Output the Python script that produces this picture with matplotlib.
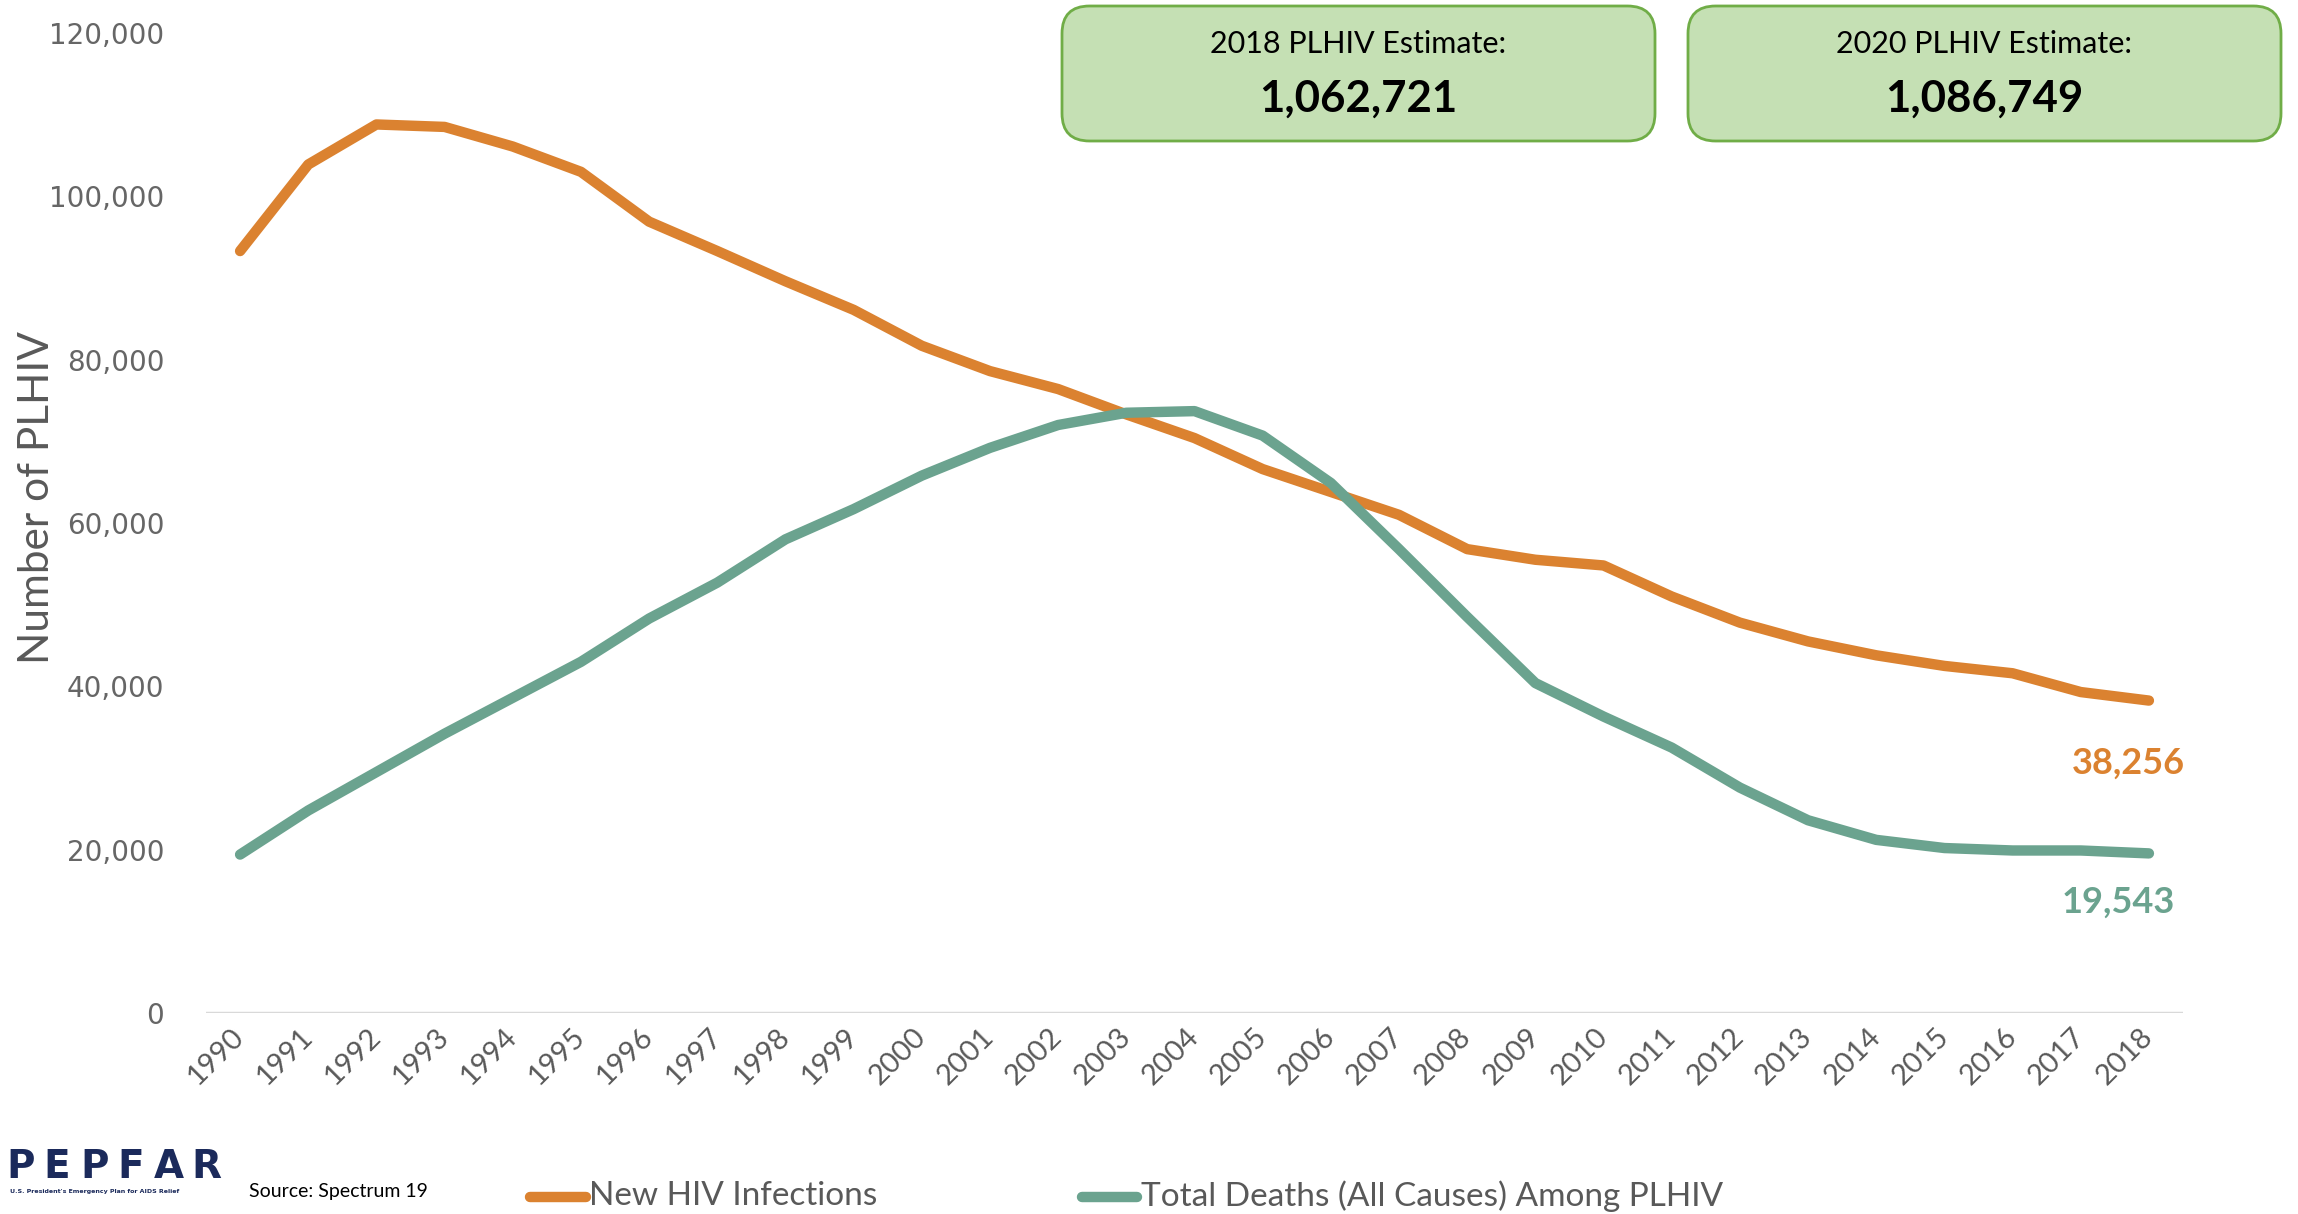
import numpy as np
import matplotlib.pyplot as plt
from matplotlib.patches import FancyBboxPatch
from matplotlib.lines import Line2D

###--- DATA ---###
years = list(range(1990, 2019))

new_infections = [93300, 103900, 108800, 108500, 106100, 103000, 96900, 93300,
                  89600, 86100, 81700, 78600, 76400, 73300, 70400, 66600,
                  63800, 61000, 56800, 55500, 54800, 51000, 47800, 45500,
                  43800, 42500, 41600, 39300, 38256]

total_deaths = [19400, 24800, 29500, 34200, 38600, 43000, 48300, 52700,
                58000, 61700, 65800, 69200, 72000, 73500, 73700, 70700,
                64900, 56800, 48500, 40400, 36300, 32500, 27600, 23600,
                21200, 20200, 19900, 19900, 19543]

series_names = ['New HIV Infections', 'Total Deaths (All Causes) Among PLHIV']
box_titles = ['2018 PLHIV Estimate:', '2020 PLHIV Estimate:']
box_values = ['1,062,721', '1,086,749']

###--- STYLE ---###
orange = '#DB8230'
green = '#6BA38F'
gray = '#595959'
W, H = 2298, 1214

def fx(px):
    return px / W

def fy(py):
    return 1 - py / H

fig = plt.figure(figsize=(W / 100, H / 100), dpi=100)
ax = fig.add_axes([fx(206), fy(1013), fx(2183) - fx(206), fy(33) - fy(1013)])

ax.plot(years, new_infections, color=orange, lw=7.5, solid_capstyle='round',
        solid_joinstyle='round')
ax.plot(years, total_deaths, color=green, lw=7.5, solid_capstyle='round',
        solid_joinstyle='round')

ax.set_xlim(1989.5, 2018.5)
ax.set_ylim(0, 120000)
for s in ax.spines.values():
    s.set_visible(False)
ax.axhline(0, color='#D9D9D9', lw=2.5, zorder=0)

yticks = np.arange(0, 120001, 20000)
ax.set_yticks(yticks)
ax.set_yticklabels(['{:,}'.format(v) for v in yticks])
ax.set_xticks(years)
ax.set_xticklabels([str(y) for y in years], rotation=45, ha='right',
                   va='center', rotation_mode='anchor')
ax.tick_params(axis='y', length=0, pad=30, labelsize=20, labelcolor='#666666')
ax.tick_params(axis='x', length=0, pad=14, labelsize=21, labelcolor=gray)
for lab in ax.get_xticklabels():
    lab.set_family('Lato')

fig.text(fx(37), fy(498), 'Number of PLHIV', rotation=90, ha='center', va='center',
         family='Lato', fontsize=30.5, color=gray)

# end-point labels
ax.annotate('{:,}'.format(new_infections[-1]), (years[-1], new_infections[-1]),
            xytext=(-15, -45), textcoords='offset points', ha='center', va='center',
            family='Lato', fontweight='bold', fontsize=26, color=orange)
ax.annotate('{:,}'.format(total_deaths[-1]), (years[-1], total_deaths[-1]),
            xytext=(-22, -35), textcoords='offset points', ha='center', va='center',
            family='Lato', fontweight='bold', fontsize=26, color=green)

# estimate boxes
box_x = [1062, 1688]
for bx, title, val in zip(box_x, box_titles, box_values):
    patch = FancyBboxPatch((fx(bx), fy(141)), fx(593), fy(0) - fy(135),
                           boxstyle='round,pad=0,rounding_size=0.012',
                           transform=fig.transFigure, facecolor='#C5E0B4',
                           edgecolor='#70AD47', lw=2, mutation_aspect=W / H)
    fig.patches.append(patch)
    cx = fx(bx + 296)
    fig.text(cx, fy(44), title, ha='center', va='center', family='Lato',
             fontsize=22, color='black')
    fig.text(cx, fy(99), val, ha='center', va='center', family='Lato',
             fontweight='bold', fontsize=31.5, color='black')

# legend
leg_items = [(530, 586, 589, orange), (1082, 1137, 1141, green)]
for (x0, x1, tx, col), name in zip(leg_items, series_names):
    fig.add_artist(Line2D([fx(x0), fx(x1)], [fy(1197), fy(1197)], color=col,
                          lw=7.5, solid_capstyle='round', transform=fig.transFigure))
    fig.text(fx(tx), fy(1196), name, ha='left', va='center', family='Lato',
             fontsize=24, color=gray)

# logo + source
for i, ch in enumerate('PEPFAR'):
    fig.text(fx(6 + i * 37), fy(1167), ch, ha='left', va='center',
             family='DejaVu Sans', fontweight='bold', fontsize=28, color='#1B2A5B')
fig.text(fx(10), fy(1191), "U.S. President's Emergency Plan for AIDS Relief",
         ha='left', va='center', family='DejaVu Sans', fontweight='bold',
         fontsize=4.5, color='#1B2A5B')
fig.text(fx(249), fy(1192), 'Source: Spectrum 19', ha='left', va='center',
         family='Lato', fontsize=14, color='black')

fig.savefig('out.png', dpi=100)
